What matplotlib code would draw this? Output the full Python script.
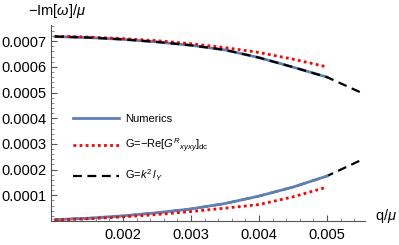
import numpy as np
import matplotlib
matplotlib.use("Agg")
import matplotlib.pyplot as plt
from matplotlib.ticker import FixedLocator, MultipleLocator, FormatStrFormatter

plt.rcParams['font.family'] = ['Liberation Sans', 'DejaVu Sans']
plt.rcParams['mathtext.fontset'] = 'custom'
plt.rcParams['mathtext.rm'] = 'Liberation Sans'
plt.rcParams['mathtext.it'] = 'Liberation Sans:italic'

# q/mu values
q = [0.001, 0.0015, 0.002, 0.0025, 0.003, 0.0035, 0.004, 0.0045, 0.005, 0.0055]

# upper branch
upper_num = [0.000718, 0.000714, 0.000707, 0.000697, 0.000684, 0.000666, 0.000636, 0.000599, 0.000560]
upper_red = [0.000719, 0.000716, 0.000710, 0.000702, 0.000690, 0.000675, 0.000656, 0.000630, 0.000600]
upper_blk = [0.000718, 0.000714, 0.000707, 0.000697, 0.000684, 0.000666, 0.000636, 0.000599, 0.000560, 0.000500]

# lower branch
lower_num = [0.000005, 0.000011, 0.000020, 0.000032, 0.000047, 0.000068, 0.000097, 0.000132, 0.000175]
lower_red = [0.000004, 0.000009, 0.000016, 0.000025, 0.000037, 0.000050, 0.000064, 0.000094, 0.000132]
lower_blk = [0.000005, 0.000011, 0.000020, 0.000032, 0.000047, 0.000068, 0.000097, 0.000132, 0.000175, 0.000237]

blue = (0.368417, 0.506779, 0.709798)

fig = plt.figure(figsize=(3.99, 2.45), dpi=100)
ax = fig.add_axes([51/399, 24/245, 314/399, 196/245])

n = len(upper_num)
ax.plot(q, lower_blk, color='black', lw=1.6, ls=(0, (4, 2.5)), zorder=1)
ax.plot(q[:n], upper_num, color=blue, lw=2.0, label="Numerics", zorder=2)
ax.plot(q[:n], lower_num, color=blue, lw=2.0, zorder=2)
ax.plot(q[:n], upper_red, color='red', lw=2.0, ls=(0, (1, 1.2)), zorder=3,
        label=r"G=$-$Re[$G^{R}{}_{xyxy}$]$_{\rm dc}$")
ax.plot(q[:n], lower_red, color='red', lw=2.0, ls=(0, (1, 1.2)), zorder=3)
ax.plot(q, upper_blk, color='black', lw=1.6, ls=(0, (4, 2.5)), zorder=4, label=r"G=$k^2\,l_Y$")

ax.set_xlim(0.000941, 0.005559)
ax.set_ylim(0, 0.000763)

for s in ['top', 'right']:
    ax.spines[s].set_visible(False)
for s in ['left', 'bottom']:
    ax.spines[s].set_color('#555555')
    ax.spines[s].set_linewidth(0.8)

ax.xaxis.set_major_locator(FixedLocator([0.002, 0.003, 0.004, 0.005]))
ax.xaxis.set_minor_locator(MultipleLocator(0.0002))
ax.xaxis.set_major_formatter(FormatStrFormatter('%.3f'))
ax.yaxis.set_major_locator(FixedLocator([0.0001, 0.0002, 0.0003, 0.0004, 0.0005, 0.0006, 0.0007]))
ax.yaxis.set_minor_locator(MultipleLocator(0.00002))
ax.yaxis.set_major_formatter(FormatStrFormatter('%.4f'))
ax.tick_params(axis='x', which='major', direction='in', length=4, width=0.8, color='#555555', labelsize=10.5, pad=5)
ax.tick_params(axis='x', which='minor', direction='in', length=2.5, width=0.6, color='#777777')
ax.tick_params(axis='y', which='major', direction='in', length=4, width=0.8, color='#555555', labelsize=10.5, pad=3)
ax.tick_params(axis='y', which='minor', direction='in', length=2.5, width=0.6, color='#777777')

fig.text(28/399, 1 - 11/245, r"$-$Im[$\omega$]/$\mu$", fontsize=10.5, va='center', ha='left')
fig.text(375/399, 1 - 216/245, r"q/$\mu$", fontsize=10.5, va='center', ha='left')

ax.legend(loc='upper left', bbox_to_anchor=(73/399, 1 - 114/245), bbox_transform=fig.transFigure,
          frameon=False, fontsize=8, handlelength=4.1, handletextpad=0.55, labelspacing=1.15,
          borderpad=0, borderaxespad=0)

fig.savefig("out.png", dpi=100)
